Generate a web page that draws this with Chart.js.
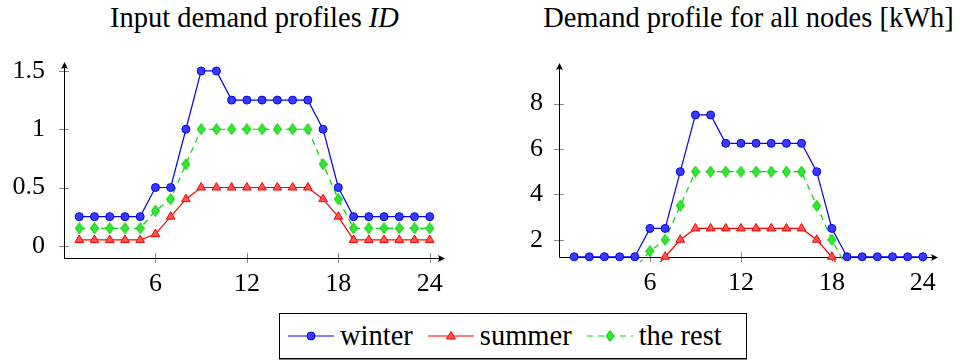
<!DOCTYPE html>
<html>
<head>
    <title>Demand profiles</title>
    <script src="https://cdn.jsdelivr.net/npm/chart.js"></script>
    <style>
        body {
            margin: 0;
            width: 961px;
            height: 360px;
            background: #fff;
            position: relative;
            overflow: hidden;
            font-family: "Liberation Serif", "Times New Roman", Times, serif;
        }
        .plot {
            position: absolute;
            top: 40px;
            height: 270px;
        }
        #left { left: 0; width: 480px; }
        #right { left: 480px; width: 481px; }
        .title {
            position: absolute;
            top: 0;
            font-size: 28.5px;
            line-height: 36px;
            white-space: nowrap;
            text-align: center;
            color: #000;
        }
        #legend {
            position: absolute;
            left: 279px;
            top: 313px;
            width: 466px;
            height: 44px;
            border: 1px solid #000;
            box-shadow: 0 1px 0 #888;
            display: flex;
            align-items: center;
            font-size: 28.5px;
            box-sizing: content-box;
        }
        .item { display: flex; align-items: center; margin-left: 8px; }
        .item svg { margin-right: 6px; }
        .item + .item { margin-left: 15px; }
    </style>
</head>
<body>
    <div class="title" id="t-left" style="left:54px;width:401px;">Input demand profiles <i>ID</i></div>
    <div class="title" id="t-right" style="left:537px;width:423px;">Demand profile for all nodes [kWh]</div>
    <div class="plot" id="left"><canvas id="chartLeft"></canvas></div>
    <div class="plot" id="right"><canvas id="chartRight"></canvas></div>
    <div id="legend"></div>

    <script>
        // Datos (horas 1..24)
        const hours = [1, 2, 3, 4, 5, 6, 7, 8, 9, 10, 11, 12, 13, 14, 15, 16, 17, 18, 19, 20, 21, 22, 23, 24];
        const seriesNames = ['winter', 'summer', 'the rest'];

        // Perfiles de entrada ID
        const inputWinter = [0.25, 0.25, 0.25, 0.25, 0.25, 0.5, 0.5, 1, 1.5, 1.5, 1.25, 1.25, 1.25, 1.25, 1.25, 1.25, 1, 0.5, 0.25, 0.25, 0.25, 0.25, 0.25, 0.25];
        const inputSummer = [0.05, 0.05, 0.05, 0.05, 0.05, 0.1, 0.25, 0.4, 0.5, 0.5, 0.5, 0.5, 0.5, 0.5, 0.5, 0.5, 0.4, 0.25, 0.05, 0.05, 0.05, 0.05, 0.05, 0.05];
        const inputRest = [0.15, 0.15, 0.15, 0.15, 0.15, 0.3, 0.4, 0.7, 1, 1, 1, 1, 1, 1, 1, 1, 0.7, 0.4, 0.15, 0.15, 0.15, 0.15, 0.15, 0.15];

        // Perfil de todos los nodos [kWh]
        const nodesWinter = [1.25, 1.25, 1.25, 1.25, 1.25, 2.5, 2.5, 5, 7.5, 7.5, 6.25, 6.25, 6.25, 6.25, 6.25, 6.25, 5, 2.5, 1.25, 1.25, 1.25, 1.25, 1.25, 1.25];
        const nodesSummer = [0.25, 0.25, 0.25, 0.25, 0.25, 0.5, 1.25, 2, 2.5, 2.5, 2.5, 2.5, 2.5, 2.5, 2.5, 2.5, 2, 1.25, 0.25, 0.25, 0.25, 0.25, 0.25, 0.25];
        const nodesRest = [0.75, 0.75, 0.75, 0.75, 0.75, 1.5, 2, 3.5, 5, 5, 5, 5, 5, 5, 5, 5, 3.5, 2, 0.75, 0.75, 0.75, 0.75, 0.75, 0.75];

        // Etiquetas de ejes
        const xTicks = [6, 12, 18, 24];
        const yTicksLeft = [0, 0.5, 1, 1.5];
        const yTicksRight = [2, 4, 6, 8];

        const FONT = '"Liberation Serif", "Times New Roman", Times, serif';
        Chart.defaults.font.family = FONT;
        Chart.defaults.font.size = 26;
        Chart.defaults.color = '#000';

        // Marcador de rombo (más alto que ancho)
        function makeDiamond(fill, stroke) {
            const c = document.createElement('canvas');
            c.width = 9; c.height = 12;
            const g = c.getContext('2d');
            g.beginPath();
            g.moveTo(4.5, 0.5); g.lineTo(8.5, 6); g.lineTo(4.5, 11.5); g.lineTo(0.5, 6);
            g.closePath();
            g.fillStyle = fill; g.fill();
            g.strokeStyle = stroke; g.lineWidth = 1; g.stroke();
            return c;
        }
        const diamond = makeDiamond('#33e633', '#00cc00');

        const styles = [
            { border: '#0000ff', fill: '#3a3aff', pointStyle: 'circle', radius: 4, dash: [] },
            { border: '#ff0000', fill: '#ff5555', pointStyle: 'triangle', radius: 5, dash: [] },
            { border: '#00d400', fill: '#33e633', pointStyle: diamond, radius: 5, dash: [6, 5] }
        ];

        function makeDatasets(values, clipBottom) {
            return values.map((v, i) => ({
                label: seriesNames[i],
                data: hours.map((h, k) => ({ x: h, y: v[k] })),
                borderColor: styles[i].border,
                backgroundColor: styles[i].fill,
                pointBackgroundColor: styles[i].fill,
                pointBorderColor: styles[i].border,
                pointBorderWidth: 1,
                pointStyle: styles[i].pointStyle,
                pointRadius: styles[i].radius,
                borderWidth: 1.2,
                borderDash: styles[i].dash,
                tension: 0,
                clip: { left: 10, right: 10, top: 10, bottom: clipBottom }
            }));
        }

        // Ejes estilo pgfplots con flechas y marcas que cruzan el eje
        const axisPlugin = {
            id: 'axisPlugin',
            beforeDatasetsDraw(chart) {
                const { ctx, chartArea: a, scales } = chart;
                ctx.save();
                ctx.lineWidth = 1;
                ctx.strokeStyle = '#8a8a8a';
                ctx.beginPath();
                scales.x.ticks.forEach(t => {
                    const px = Math.round(scales.x.getPixelForValue(t.value)) + 0.5;
                    ctx.moveTo(px, a.bottom - 5); ctx.lineTo(px, a.bottom + 5);
                });
                scales.y.ticks.forEach(t => {
                    const py = Math.round(scales.y.getPixelForValue(t.value)) + 0.5;
                    ctx.moveTo(a.left - 5, py); ctx.lineTo(a.left + 5, py);
                });
                ctx.stroke();

                const x0 = Math.round(a.left) + 0.5, y0 = Math.round(a.bottom) + 0.5;
                ctx.strokeStyle = '#000';
                ctx.fillStyle = '#000';
                ctx.beginPath();
                ctx.moveTo(x0, y0); ctx.lineTo(a.right - 2, y0);
                ctx.moveTo(x0, y0); ctx.lineTo(x0, a.top + 2);
                ctx.stroke();
                // punta derecha
                const xr = a.right;
                ctx.beginPath();
                ctx.moveTo(xr, y0);
                ctx.lineTo(xr - 7, y0 - 3.5);
                ctx.quadraticCurveTo(xr - 5, y0, xr - 7, y0 + 3.5);
                ctx.closePath(); ctx.fill();
                // punta superior
                const yt = a.top;
                ctx.beginPath();
                ctx.moveTo(x0, yt);
                ctx.lineTo(x0 - 3.5, yt + 7);
                ctx.quadraticCurveTo(x0, yt + 5, x0 + 3.5, yt + 7);
                ctx.closePath(); ctx.fill();
                ctx.restore();
            }
        };

        function buildChart(id, values, opts) {
            const ctx = document.getElementById(id).getContext('2d');
            return new Chart(ctx, {
                type: 'line',
                data: { datasets: makeDatasets(values, opts.clipBottom) },
                options: {
                    responsive: true,
                    maintainAspectRatio: false,
                    animation: false,
                    layout: { padding: { top: opts.padTop, right: opts.padRight, left: 0, bottom: 0 } },
                    plugins: { legend: { display: false }, tooltip: { enabled: false }, title: { display: false } },
                    scales: {
                        x: {
                            type: 'linear',
                            min: 0,
                            max: 25,
                            border: { display: false },
                            grid: { display: false, drawTicks: false },
                            ticks: { padding: 11, maxRotation: 0, autoSkip: false, callback: v => String(v) },
                            afterBuildTicks: s => { s.ticks = xTicks.map(v => ({ value: v })); },
                            afterFit: s => { s.height = opts.xHeight; s.paddingLeft = 0; s.paddingRight = 0; }
                        },
                        y: {
                            type: 'linear',
                            min: opts.yMin,
                            max: opts.yMax,
                            border: { display: false },
                            grid: { display: false, drawTicks: false },
                            ticks: { padding: opts.yPad, autoSkip: false, callback: v => String(v) },
                            afterBuildTicks: s => { s.ticks = opts.yTicks.map(v => ({ value: v })); },
                            afterFit: s => { s.width = opts.yWidth; s.paddingTop = 0; s.paddingBottom = 0; }
                        }
                    }
                },
                plugins: [axisPlugin]
            });
        }

        buildChart('chartLeft', [inputWinter, inputSummer, inputRest], {
            yMin: -0.105, yMax: 1.577, yTicks: yTicksLeft,
            yWidth: 64, xHeight: 52, padTop: 22, padRight: 35, yPad: 19, clipBottom: 10
        });
        buildChart('chartRight', [nodesWinter, nodesSummer, nodesRest], {
            yMin: 1.24, yMax: 9.79, yTicks: yTicksRight,
            yWidth: 79, xHeight: 53, padTop: 23, padRight: 23, yPad: 16, clipBottom: 5
        });

        // Leyenda HTML
        function legendIcon(i) {
            const s = styles[i];
            const dash = s.dash.length ? ' stroke-dasharray="6 5"' : '';
            let mark;
            if (i === 0) mark = `<circle cx="23" cy="10" r="4" fill="${s.fill}" stroke="${s.border}"/>`;
            else if (i === 1) mark = `<polygon points="23,5.5 27.5,13 18.5,13" fill="${s.fill}" stroke="${s.border}"/>`;
            else mark = `<polygon points="23,4.5 27,10 23,15.5 19,10" fill="${s.fill}" stroke="${s.border}"/>`;
            return `<svg width="46" height="20"><line x1="0" y1="10" x2="46" y2="10" stroke="${s.border}" stroke-width="1.2"${dash}/>${mark}</svg>`;
        }
        document.getElementById('legend').innerHTML = seriesNames
            .map((n, i) => `<span class="item">${legendIcon(i)}<span>${n}</span></span>`)
            .join('');
    </script>
</body>
</html>
